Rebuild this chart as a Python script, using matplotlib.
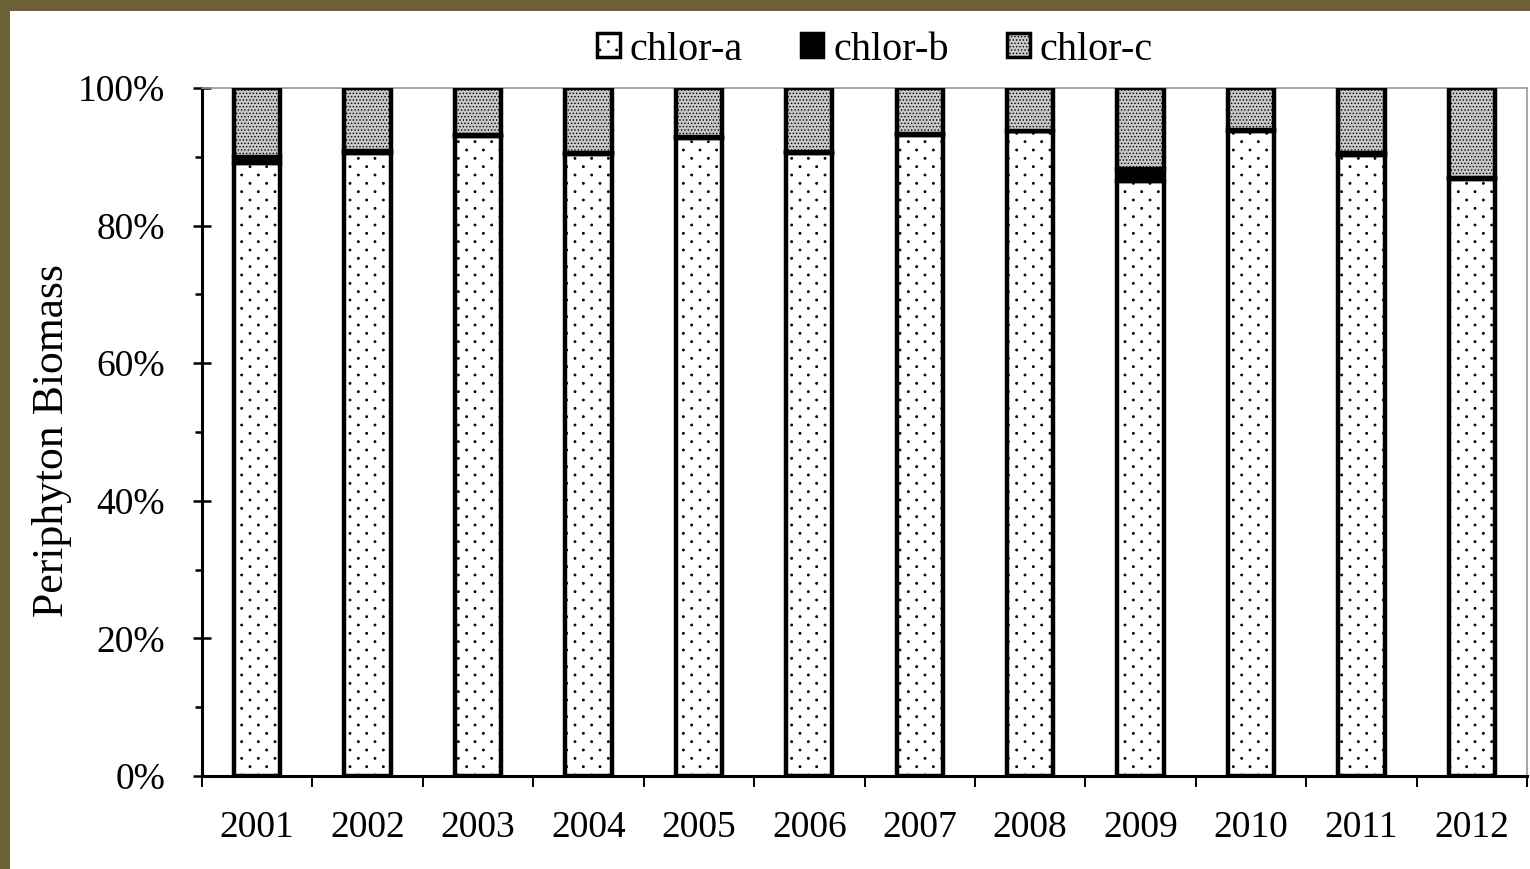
import matplotlib
matplotlib.use("Agg")
import matplotlib.pyplot as plt
import matplotlib.hatch as mhatch
from matplotlib.patches import Rectangle, Patch
from matplotlib.ticker import FixedLocator, MultipleLocator, FuncFormatter
import numpy as np

plt.rcParams['font.family'] = ['Liberation Serif', 'DejaVu Serif']
plt.rcParams['hatch.linewidth'] = 0.6

years = ['2001', '2002', '2003', '2004', '2005', '2006',
         '2007', '2008', '2009', '2010', '2011', '2012']
chlor_a = [89.1, 90.6, 93.0, 90.4, 92.8, 90.6, 93.2, 93.7, 86.5, 93.8, 90.3, 86.8]
chlor_b = [0.9, 0.2, 0.1, 0.1, 0.1, 0.1, 0.1, 0.1, 1.7, 0.1, 0.3, 0.1]
chlor_c = [10.0, 9.2, 6.9, 9.5, 7.1, 9.3, 6.7, 6.2, 11.8, 6.1, 9.4, 13.1]
series_names = ['chlor-a', 'chlor-b', 'chlor-c']


class _StippleDots(mhatch.SmallFilledCircles):
    """A single '.' draws a diamond lattice of small dots (rows at half spacing)."""

    def __init__(self, hatch, density):
        super().__init__(hatch, density)
        self.diamond = hatch.count('.') == 1 and self.num_rows > 0
        if self.diamond:
            n = self.num_rows
            self.size = 0.06
            self.num_shapes = (n + 1) * (n + 1) + n * n
            self.num_vertices = self.num_shapes * len(self.shape_vertices)

    def set_vertices_and_codes(self, vertices, codes):
        if not self.diamond:
            return super().set_vertices_and_codes(vertices, codes)
        n = self.num_rows
        offset = 1.0 / n
        shape_vertices = self.shape_vertices * offset * self.size
        vparts, cparts = [], []
        for row in range(2 * n + 1):
            if row % 2 == 0:
                cols = np.linspace(0, 1, n + 1)
            else:
                cols = np.linspace(offset / 2, 1 - offset / 2, n)
            for col in cols:
                vparts.append(shape_vertices + [col, row * offset / 2])
                cparts.append(self.shape_codes)
        np.concatenate(vparts, out=vertices)
        np.concatenate(cparts, out=codes)


mhatch._hatch_types[mhatch._hatch_types.index(mhatch.SmallFilledCircles)] = _StippleDots

W, H = 1530, 869
TICK_FS = 27
fig = plt.figure(figsize=(W / 100, H / 100), dpi=100, facecolor='#6d6035')
# white card on the coloured backdrop
fig.patches.append(Rectangle((10 / W, 0), 1 - 10 / W, 1 - 11 / H,
                             transform=fig.transFigure, facecolor='white',
                             edgecolor='none', zorder=-10))

ax = fig.add_axes([202 / W, 1 - 776 / H, (1527 - 202) / W, (776 - 88) / H])
ax.set_facecolor('white')

x = np.arange(len(years))
a = np.array(chlor_a)
b = np.array(chlor_b)
c = np.array(chlor_c)
tot = a + b + c
pa, pb, pc = a / tot * 100, b / tot * 100, c / tot * 100

bw = 0.42
lw = 3.2
styles = [
    dict(facecolor='white', hatch='.'),
    dict(facecolor='black', hatch=None),
    dict(facecolor='#c8c8c8', hatch='.....'),
]
bottoms = [np.zeros_like(pa), pa, pa + pb]
for vals, bot, st in zip([pa, pb, pc], bottoms, styles):
    ax.bar(x, vals, bw, bottom=bot, edgecolor='black', linewidth=lw,
           zorder=3, **st)

ax.set_xlim(-0.5, len(years) - 0.5)
ax.set_ylim(0, 100)

# y axis
ax.yaxis.set_major_locator(MultipleLocator(20))
ax.yaxis.set_minor_locator(MultipleLocator(10))
ax.yaxis.set_major_formatter(FuncFormatter(lambda v, p: f'{int(round(v))}%'))
ax.tick_params(axis='y', which='major', direction='inout', length=13,
               width=1.8, labelsize=TICK_FS, pad=20)
ax.tick_params(axis='y', which='minor', direction='out', length=5, width=1.8)

# x axis: labels at category centres, ticks at category boundaries
ax.xaxis.set_major_locator(FixedLocator(x))
ax.set_xticklabels(years)
ax.xaxis.set_minor_locator(FixedLocator(np.arange(-0.5, len(years), 1.0)))
ax.tick_params(axis='x', which='major', length=0, labelsize=TICK_FS, pad=25)
ax.tick_params(axis='x', which='minor', direction='out', length=8, width=1.4)

for side in ('left', 'bottom'):
    ax.spines[side].set_linewidth(2.2)
    ax.spines[side].set_color('black')
for side in ('top', 'right'):
    ax.spines[side].set_linewidth(1.2)
    ax.spines[side].set_color('#999999')

ax.set_ylabel('Periphyton Biomass', fontsize=31.5)
ax.yaxis.set_label_coords((72 - 202) / (1527 - 202), 0.488)

handles = [Patch(edgecolor='black', linewidth=2.5, **st) for st in styles]
fig.legend(handles, series_names, loc='center', ncol=3, frameon=False,
           fontsize=29, bbox_to_anchor=(0.572, 1 - 50 / H),
           handlelength=0.55, handleheight=0.55, handletextpad=0.25,
           columnspacing=1.45)

fig.savefig('out.png', dpi=100, facecolor=fig.get_facecolor())
